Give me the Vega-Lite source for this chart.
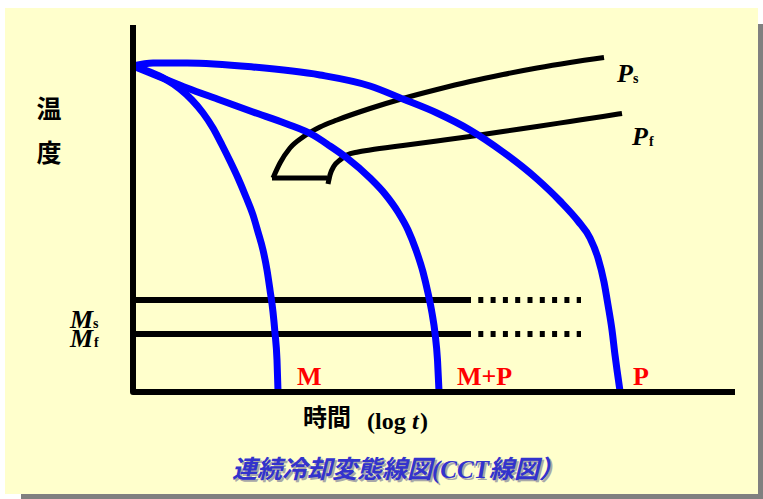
{
  "$schema": "https://vega.github.io/schema/vega-lite/v6.json",
  "width": 763,
  "height": 499,
  "autosize": {"type": "fit", "contains": "padding"},
  "padding": 0,
  "background": "white",
  "config": {"view": {"stroke": null}},
  "datasets": {
    "panel": [
      {"part": "shadow", "x": -11.2, "x2": 63.0, "y": 736, "y2": -214},
      {"part": "panel", "x": -12.8, "x2": 62.5, "y": 768, "y2": -204}
    ],
    "frame": [
      {"i": 0, "x": 0, "y": 734},
      {"i": 1, "x": 0, "y": 0},
      {"i": 2, "x": 60.2, "y": 0}
    ],
    "martensite": [
      {"line": "Ms", "i": 0, "x": 0, "y": 184},
      {"line": "Ms", "i": 1, "x": 33.4, "y": 184},
      {"line": "Mf", "i": 0, "x": 0, "y": 116},
      {"line": "Mf", "i": 1, "x": 33.4, "y": 116}
    ],
    "martensiteExt": [
      {"line": "Ms", "i": 0, "x": 33.3, "y": 184},
      {"line": "Ms", "i": 1, "x": 44.8, "y": 184},
      {"line": "Mf", "i": 0, "x": 33.3, "y": 116},
      {"line": "Mf", "i": 1, "x": 44.8, "y": 116}
    ],
    "cooling": [
      {"curve": "M", "i": 0, "x": 0, "y": 652},
      {"curve": "M", "i": 1, "x": 1.7, "y": 640},
      {"curve": "M", "i": 2, "x": 3.2, "y": 626},
      {"curve": "M", "i": 3, "x": 4.7, "y": 606},
      {"curve": "M", "i": 4, "x": 5.9, "y": 584},
      {"curve": "M", "i": 5, "x": 7.0, "y": 558},
      {"curve": "M", "i": 6, "x": 8.0, "y": 528},
      {"curve": "M", "i": 7, "x": 8.9, "y": 494},
      {"curve": "M", "i": 8, "x": 9.7, "y": 462},
      {"curve": "M", "i": 9, "x": 10.5, "y": 428},
      {"curve": "M", "i": 10, "x": 11.3, "y": 390},
      {"curve": "M", "i": 11, "x": 12.0, "y": 354},
      {"curve": "M", "i": 12, "x": 12.5, "y": 320},
      {"curve": "M", "i": 13, "x": 13.0, "y": 284},
      {"curve": "M", "i": 14, "x": 13.4, "y": 244},
      {"curve": "M", "i": 15, "x": 13.7, "y": 204},
      {"curve": "M", "i": 16, "x": 14.0, "y": 160},
      {"curve": "M", "i": 17, "x": 14.2, "y": 118},
      {"curve": "M", "i": 18, "x": 14.4, "y": 64},
      {"curve": "M", "i": 19, "x": 14.5, "y": 2},
      {"curve": "M+P", "i": 0, "x": 0, "y": 652},
      {"curve": "M+P", "i": 1, "x": 2.7, "y": 630},
      {"curve": "M+P", "i": 2, "x": 5.4, "y": 608},
      {"curve": "M+P", "i": 3, "x": 8.7, "y": 584},
      {"curve": "M+P", "i": 4, "x": 12.0, "y": 560},
      {"curve": "M+P", "i": 5, "x": 15.4, "y": 536},
      {"curve": "M+P", "i": 6, "x": 18.0, "y": 514},
      {"curve": "M+P", "i": 7, "x": 19.7, "y": 492},
      {"curve": "M+P", "i": 8, "x": 21.4, "y": 468},
      {"curve": "M+P", "i": 9, "x": 23.7, "y": 428},
      {"curve": "M+P", "i": 10, "x": 25.2, "y": 396},
      {"curve": "M+P", "i": 11, "x": 26.5, "y": 360},
      {"curve": "M+P", "i": 12, "x": 27.5, "y": 324},
      {"curve": "M+P", "i": 13, "x": 28.3, "y": 284},
      {"curve": "M+P", "i": 14, "x": 29.0, "y": 240},
      {"curve": "M+P", "i": 15, "x": 29.5, "y": 198},
      {"curve": "M+P", "i": 16, "x": 29.9, "y": 158},
      {"curve": "M+P", "i": 17, "x": 30.2, "y": 118},
      {"curve": "M+P", "i": 18, "x": 30.45, "y": 64},
      {"curve": "M+P", "i": 19, "x": 30.6, "y": 2},
      {"curve": "P", "i": 0, "x": 0, "y": 652},
      {"curve": "P", "i": 1, "x": 2.0, "y": 658},
      {"curve": "P", "i": 2, "x": 5.4, "y": 658},
      {"curve": "P", "i": 3, "x": 12.0, "y": 650},
      {"curve": "P", "i": 4, "x": 18.7, "y": 634},
      {"curve": "P", "i": 5, "x": 23.7, "y": 612},
      {"curve": "P", "i": 6, "x": 27.0, "y": 586},
      {"curve": "P", "i": 7, "x": 30.4, "y": 558},
      {"curve": "P", "i": 8, "x": 33.7, "y": 524},
      {"curve": "P", "i": 9, "x": 37.0, "y": 480},
      {"curve": "P", "i": 10, "x": 40.4, "y": 426},
      {"curve": "P", "i": 11, "x": 42.7, "y": 382},
      {"curve": "P", "i": 12, "x": 44.5, "y": 342},
      {"curve": "P", "i": 13, "x": 45.7, "y": 308},
      {"curve": "P", "i": 14, "x": 46.5, "y": 268},
      {"curve": "P", "i": 15, "x": 47.1, "y": 220},
      {"curve": "P", "i": 16, "x": 47.5, "y": 174},
      {"curve": "P", "i": 17, "x": 47.9, "y": 124},
      {"curve": "P", "i": 18, "x": 48.2, "y": 74},
      {"curve": "P", "i": 19, "x": 48.4, "y": 44},
      {"curve": "P", "i": 20, "x": 48.7, "y": 2}
    ],
    "transformation": [
      {"curve": "Ps", "i": 0, "x": 14.0, "y": 428},
      {"curve": "Ps", "i": 1, "x": 14.7, "y": 458},
      {"curve": "Ps", "i": 2, "x": 15.7, "y": 488},
      {"curve": "Ps", "i": 3, "x": 17.0, "y": 510},
      {"curve": "Ps", "i": 4, "x": 18.7, "y": 530},
      {"curve": "Ps", "i": 5, "x": 20.4, "y": 544},
      {"curve": "Ps", "i": 6, "x": 23.7, "y": 567},
      {"curve": "Ps", "i": 7, "x": 27.0, "y": 587},
      {"curve": "Ps", "i": 8, "x": 30.4, "y": 605},
      {"curve": "Ps", "i": 9, "x": 33.7, "y": 621},
      {"curve": "Ps", "i": 10, "x": 37.0, "y": 635},
      {"curve": "Ps", "i": 11, "x": 40.4, "y": 648},
      {"curve": "Ps", "i": 12, "x": 43.7, "y": 659},
      {"curve": "Ps", "i": 13, "x": 47.1, "y": 669},
      {"curve": "nose", "i": 0, "x": 13.9, "y": 428},
      {"curve": "nose", "i": 1, "x": 19.4, "y": 428},
      {"curve": "Pf", "i": 0, "x": 19.5, "y": 416},
      {"curve": "Pf", "i": 1, "x": 19.7, "y": 434},
      {"curve": "Pf", "i": 2, "x": 20.1, "y": 452},
      {"curve": "Pf", "i": 3, "x": 20.7, "y": 464},
      {"curve": "Pf", "i": 4, "x": 21.4, "y": 474},
      {"curve": "Pf", "i": 5, "x": 22.5, "y": 480},
      {"curve": "Pf", "i": 6, "x": 23.7, "y": 484},
      {"curve": "Pf", "i": 7, "x": 27.0, "y": 493},
      {"curve": "Pf", "i": 8, "x": 30.4, "y": 502},
      {"curve": "Pf", "i": 9, "x": 33.7, "y": 511},
      {"curve": "Pf", "i": 10, "x": 37.0, "y": 521},
      {"curve": "Pf", "i": 11, "x": 40.4, "y": 531},
      {"curve": "Pf", "i": 12, "x": 43.7, "y": 541},
      {"curve": "Pf", "i": 13, "x": 47.0, "y": 551},
      {"curve": "Pf", "i": 14, "x": 48.9, "y": 557}
    ],
    "zones": [
      {"x": 16.4, "y": 14, "text": "M"},
      {"x": 32.4, "y": 14, "text": "M+P"},
      {"x": 50.0, "y": 14, "text": "P"}
    ],
    "symbols": [
      {"x": 48.4, "y": 620, "text": "P"},
      {"x": 49.9, "y": 494, "text": "P"},
      {"x": -6.3, "y": 128, "text": "M"},
      {"x": -6.3, "y": 90, "text": "M"}
    ],
    "subscripts": [
      {"x": 50.0, "y": 619, "text": "s"},
      {"x": 51.6, "y": 493, "text": "f"},
      {"x": -4.0, "y": 128, "text": "s"},
      {"x": -3.9, "y": 90, "text": "f"}
    ],
    "ytitle": [
      {"x": -8.4, "y": 564, "text": "温"},
      {"x": -8.4, "y": 476, "text": "度"}
    ],
    "xtitleCJK": [{"x": 17.0, "y": -54, "text": "時間"}],
    "xtitleUpright": [
      {"x": 23.4, "y": -74, "text": "(log"},
      {"x": 28.7, "y": -74, "text": ")"}
    ],
    "xtitleItalic": [{"x": 27.9, "y": -74, "text": "t"}],
    "caption": [{"x": 26.5, "y": -155, "text": "連続冷却変態線図(CCT線図）"}]
  },
  "encoding": {
    "x": {"field": "x", "type": "quantitative", "scale": {"domain": [-13.3, 63.0], "nice": false, "zero": false}, "axis": null},
    "y": {"field": "y", "type": "quantitative", "scale": {"domain": [-214, 784], "nice": false, "zero": false}, "axis": null}
  },
  "layer": [
    {
      "data": {"name": "panel"},
      "mark": {"type": "rect", "clip": false},
      "encoding": {
        "x2": {"field": "x2"},
        "y2": {"field": "y2"},
        "color": {"field": "part", "type": "nominal", "scale": {"domain": ["shadow", "panel"], "range": ["#808080", "#FFFFCC"]}, "legend": null},
        "order": {"field": "part", "sort": "descending"}
      }
    },
    {
      "data": {"name": "martensite"},
      "mark": {"type": "line", "color": "black", "strokeWidth": 6, "strokeCap": "butt"},
      "encoding": {"detail": {"field": "line"}, "order": {"field": "i"}}
    },
    {
      "data": {"name": "martensiteExt"},
      "mark": {"type": "line", "color": "black", "strokeWidth": 6, "strokeCap": "butt", "strokeDash": [5, 7.3]},
      "encoding": {"detail": {"field": "line"}, "order": {"field": "i"}}
    },
    {
      "data": {"name": "transformation"},
      "mark": {"type": "line", "color": "black", "strokeWidth": 5, "interpolate": "monotone", "strokeCap": "butt"},
      "encoding": {"detail": {"field": "curve"}, "order": {"field": "i"}}
    },
    {
      "data": {"name": "cooling"},
      "mark": {"type": "line", "color": "#0000FF", "strokeWidth": 7, "interpolate": "monotone", "strokeCap": "butt", "strokeJoin": "round"},
      "encoding": {"detail": {"field": "curve"}, "order": {"field": "i"}}
    },
    {
      "data": {"name": "frame"},
      "mark": {"type": "line", "color": "black", "strokeWidth": 6, "strokeJoin": "round", "strokeCap": "butt"},
      "encoding": {"order": {"field": "i"}}
    },
    {
      "data": {"name": "zones"},
      "mark": {"type": "text", "align": "left", "baseline": "alphabetic", "font": "Liberation Serif", "fontWeight": "bold", "fontSize": 26, "color": "#FF0000"},
      "encoding": {"text": {"field": "text"}}
    },
    {
      "data": {"name": "symbols"},
      "mark": {"type": "text", "align": "left", "baseline": "alphabetic", "font": "Liberation Serif", "fontWeight": "bold", "fontStyle": "italic", "fontSize": 26, "color": "black"},
      "encoding": {"text": {"field": "text"}}
    },
    {
      "data": {"name": "subscripts"},
      "mark": {"type": "text", "align": "left", "baseline": "alphabetic", "font": "Liberation Serif", "fontWeight": "bold", "fontSize": 14, "color": "black"},
      "encoding": {"text": {"field": "text"}}
    },
    {
      "data": {"name": "ytitle"},
      "mark": {"type": "text", "align": "center", "baseline": "middle", "font": "Noto Sans CJK JP", "fontWeight": "bold", "fontSize": 25, "color": "black"},
      "encoding": {"text": {"field": "text"}}
    },
    {
      "data": {"name": "xtitleCJK"},
      "mark": {"type": "text", "align": "left", "baseline": "middle", "font": "Noto Sans CJK JP", "fontWeight": "bold", "fontSize": 24, "color": "black"},
      "encoding": {"text": {"field": "text"}}
    },
    {
      "data": {"name": "xtitleUpright"},
      "mark": {"type": "text", "align": "left", "baseline": "alphabetic", "font": "Liberation Serif", "fontWeight": "bold", "fontSize": 24, "color": "black"},
      "encoding": {"text": {"field": "text"}}
    },
    {
      "data": {"name": "xtitleItalic"},
      "mark": {"type": "text", "align": "left", "baseline": "alphabetic", "font": "Liberation Serif", "fontWeight": "bold", "fontStyle": "italic", "fontSize": 24, "color": "black"},
      "encoding": {"text": {"field": "text"}}
    },
    {
      "data": {"name": "caption"},
      "mark": {"type": "text", "align": "center", "baseline": "middle", "font": "Liberation Serif, Noto Sans CJK JP", "fontWeight": "bold", "fontStyle": "italic", "fontSize": 25, "color": "#A8A8A8", "dx": 2, "dy": 2},
      "encoding": {"text": {"field": "text"}}
    },
    {
      "data": {"name": "caption"},
      "mark": {"type": "text", "align": "center", "baseline": "middle", "font": "Liberation Serif, Noto Sans CJK JP", "fontWeight": "bold", "fontStyle": "italic", "fontSize": 25, "color": "#3333CC"},
      "encoding": {"text": {"field": "text"}}
    }
  ]
}
